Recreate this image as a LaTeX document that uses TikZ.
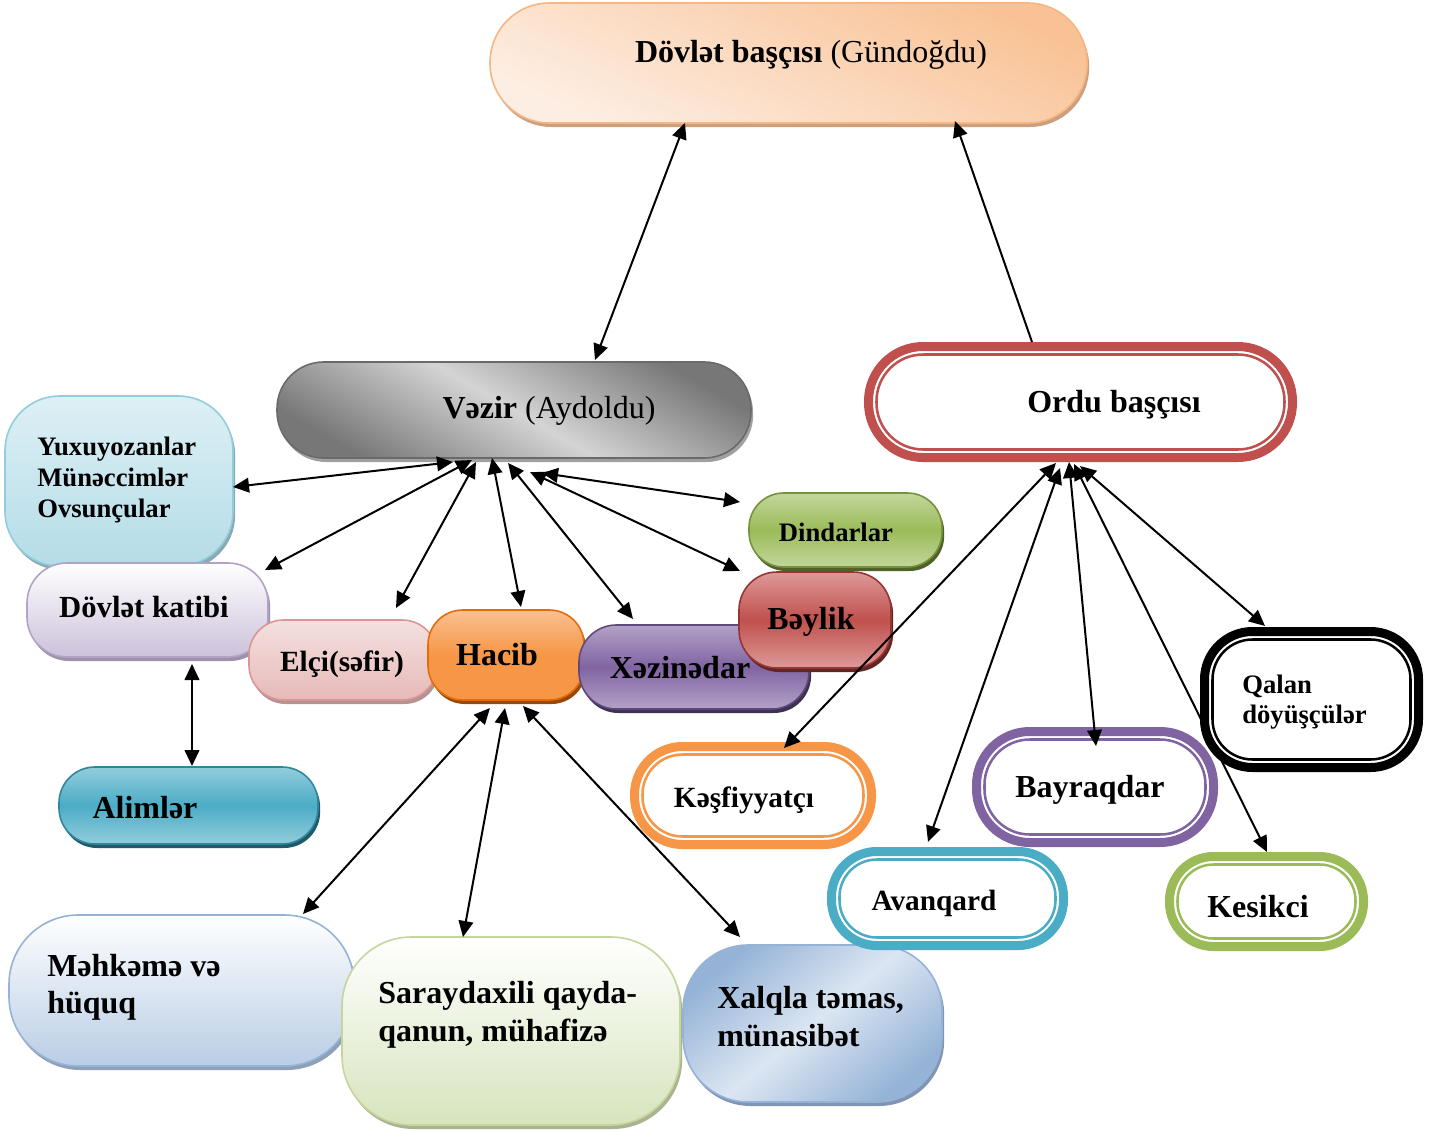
\documentclass[tikz,border=0pt]{standalone}
\usepackage{fontspec}
\setmainfont{Liberation Serif}
\usetikzlibrary{arrows.meta,calc,shadows}
\definecolor{dvTop}{HTML}{F9C295}
\definecolor{dvBot}{HTML}{FDEEE3}
\definecolor{dvLine}{HTML}{F7B683}
\definecolor{dvShd}{HTML}{C9A080}
\definecolor{vzDark}{HTML}{777777}
\definecolor{vzLight}{HTML}{D4D4D4}
\definecolor{vzLine}{HTML}{6A6A6A}
\definecolor{vzShd}{HTML}{A0A0A0}
\definecolor{cRed}{HTML}{C0504D}
\definecolor{cOrange}{HTML}{F79646}
\definecolor{cTeal}{HTML}{4BACC6}
\definecolor{cPurple}{HTML}{8064A2}
\definecolor{cGreen}{HTML}{9BBB59}
\definecolor{yxTop}{HTML}{DDF0F5}
\definecolor{yxBot}{HTML}{B4DCE7}
\definecolor{yxLine}{HTML}{93CDDD}
\definecolor{yxShd}{HTML}{8AA9B2}
\definecolor{ktBot}{HTML}{CCC1DA}
\definecolor{ktLine}{HTML}{B3A2C7}
\definecolor{ktShd}{HTML}{9C93AA}
\definecolor{elTop}{HTML}{F4E1E0}
\definecolor{elBot}{HTML}{E6B9B8}
\definecolor{elLine}{HTML}{D99694}
\definecolor{elShd}{HTML}{B59392}
\definecolor{hcTop}{HTML}{FAC090}
\definecolor{hcLine}{HTML}{E46C0A}
\definecolor{hcShd}{HTML}{984807}
\definecolor{xzLight}{HTML}{B3A2C7}
\definecolor{xzLine}{HTML}{5F497A}
\definecolor{xzShd}{HTML}{3F3151}
\definecolor{bkLight}{HTML}{DD9A98}
\definecolor{bkLine}{HTML}{943634}
\definecolor{bkShd}{HTML}{632523}
\definecolor{dnLight}{HTML}{C3D69B}
\definecolor{dnLine}{HTML}{76923C}
\definecolor{dnShd}{HTML}{4F6228}
\definecolor{alLight}{HTML}{92CDDC}
\definecolor{alLine}{HTML}{31859C}
\definecolor{alShd}{HTML}{215968}
\definecolor{mhBot}{HTML}{B9CDE5}
\definecolor{mhLine}{HTML}{95B3D7}
\definecolor{mhShd}{HTML}{8E9FB6}
\definecolor{srBot}{HTML}{D7E4BD}
\definecolor{srLine}{HTML}{C3D69B}
\definecolor{srShd}{HTML}{A9B392}
\definecolor{xqDark}{HTML}{95B3D7}
\definecolor{xqLight}{HTML}{DCE6F2}
\definecolor{xqShd}{HTML}{8195B2}
\newcommand\dblin[3]{\draw[draw=#2, line width=1.9pt, rounded corners=#3]
  ($(#1.south west)+(12.5,-12.5)$) rectangle ($(#1.north east)+(-12.5,12.5)$);}
\begin{document}
\begin{tikzpicture}[x=0.75pt,y=-0.75pt,
  bx/.style={draw, inner sep=0pt, line width=1.2pt},
  shd/.style={drop shadow={fill=#1, opacity=1, shadow xshift=1.6pt, shadow yshift=-3pt}},
  gloss/.style n args={3}{top color=#1, bottom color=#1, middle color=#2, draw=#3},
  dbl/.style={draw=#1, line width=6.75pt, fill=white, inner sep=0pt},
  tx/.style={inner sep=0pt, font=\fontsize{24pt}{28pt}\selectfont\bfseries, text height=16pt, text depth=0pt},
  tm/.style={inner sep=0pt, anchor=west, align=left, font=\fontsize{24pt}{28.5pt}\selectfont\bfseries},
  tip/.tip={Triangle[length=12pt,width=11pt]},
  arr/.style={line width=1.5pt, tip-tip},
  sarr/.style={line width=1.5pt, -tip}]
\fill[white] (0,0) rectangle (1446,1131);
\useasboundingbox (0,0) rectangle (1446,1131);

% top boxes
\node[bx, draw=dvLine, top color=dvTop, bottom color=dvBot, shading angle=-25,
  minimum width=447.75pt, minimum height=90pt, rounded corners=44.5pt, shd=dvShd] (dovlet) at (788.5,63) {};
\node[bx, draw=vzLine, top color=vzDark, bottom color=vzDark, middle color=vzLight, shading angle=-30,
  minimum width=355.5pt, minimum height=72pt, rounded corners=35pt, shd=vzShd] (vezir) at (514,410) {};
\node[dbl=cRed, minimum width=318pt, minimum height=83.25pt, rounded corners=41pt] (ordu) at (1080.5,402) {};
\dblin{ordu}{cRed}{35pt}

% left cluster
\node[bx, draw=yxLine, top color=yxTop, bottom color=yxBot,
  minimum width=171pt, minimum height=127.5pt, rounded corners=41pt, shd=yxShd] (yuxu) at (119,481) {};
\node[bx, draw=ktLine, top color=white, bottom color=ktBot,
  minimum width=180.75pt, minimum height=70.5pt, rounded corners=30pt, shd=ktShd] (katib) at (147.5,610) {};
\node[bx, draw=elLine, top color=elTop, bottom color=elBot,
  minimum width=141pt, minimum height=60pt, rounded corners=26pt, shd=elShd] (elci) at (343,660) {};
\node[bx, gloss={hcTop}{cOrange}{hcLine}, bottom color=cOrange, middle color=cOrange,
  minimum width=117pt, minimum height=67.5pt, rounded corners=26pt, shd=hcShd] (hacib) at (506,655) {};
\node[bx, gloss={xzLight}{cPurple}{xzLine},
  minimum width=172.5pt, minimum height=63pt, rounded corners=28pt, shd=xzShd] (xezine) at (694,667) {};
\node[bx, gloss={bkLight}{cRed}{bkLine},
  minimum width=114pt, minimum height=72pt, rounded corners=28.5pt, shd=bkShd] (beylik) at (815,620) {};
\node[bx, gloss={dnLight}{cGreen}{dnLine},
  minimum width=144.75pt, minimum height=55.5pt, rounded corners=26pt, shd=dnShd] (dindar) at (845.5,530) {};
\node[bx, gloss={alLight}{cTeal}{alLine},
  minimum width=194.25pt, minimum height=57.75pt, rounded corners=27pt, shd=alShd] (alim) at (188.5,805.5) {};

% bottom boxes
\node[bx, draw=mhLine, top color=white, bottom color=mhBot,
  minimum width=258.75pt, minimum height=113.25pt, rounded corners=52pt, shd=mhShd] (mehkeme) at (181.5,990.5) {};
\node[bx, draw=srLine, top color=white, bottom color=srBot,
  minimum width=253.5pt, minimum height=141pt, rounded corners=52pt, shd=srShd] (saray) at (511,1031) {};
\node[bx, draw=xqDark, top color=xqDark, bottom color=xqDark, middle color=xqLight, shading angle=40,
  minimum width=194.25pt, minimum height=117.75pt, rounded corners=49pt, shd=xqShd] (xalq) at (812.5,1023.5) {};

% army boxes
\node[dbl=cOrange, minimum width=177.75pt, minimum height=73.5pt, rounded corners=36pt] (kesf) at (753,795.5) {};
\dblin{kesf}{cOrange}{30pt}
\node[dbl=cTeal, minimum width=174pt, minimum height=70.5pt, rounded corners=34pt] (avan) at (947.5,898.5) {};
\dblin{avan}{cTeal}{28pt}
\node[dbl=cPurple, minimum width=177.75pt, minimum height=83.25pt, rounded corners=40pt] (bayraq) at (1095,787) {};
\dblin{bayraq}{cPurple}{34pt}
\node[dbl=black, minimum width=160.5pt, minimum height=102pt, rounded corners=36pt] (qalan) at (1311.5,699.5) {};
\dblin{qalan}{black}{30pt}
\node[dbl=cGreen, minimum width=145.5pt, minimum height=67.5pt, rounded corners=33pt] (kesik) at (1266.5,901.5) {};
\dblin{kesik}{cGreen}{27pt}

% texts
\node[tx, font=\fontsize{24pt}{28pt}\selectfont] (dovlet-t) at (811,52) {{\bfseries Dövlət başçısı} (Gündoğdu)};
\node[tx, font=\fontsize{24pt}{28pt}\selectfont] (vezir-t) at (549,408) {{\bfseries Vəzir} (Aydoldu)};
\node[tx] (ordu-t) at (1114,402) {Ordu başçısı};
\node[tm, font=\fontsize{20pt}{23.25pt}\selectfont\bfseries] (yuxu-t) at (37,480) {Yuxuyozanlar\\Münəccimlər\\Ovsunçular};
\node[tx, font=\fontsize{23pt}{28pt}\selectfont\bfseries] (katib-t) at (144,607) {Dövlət katibi};
\node[tx, font=\fontsize{22pt}{28pt}\selectfont\bfseries] (elci-t) at (342,661) {Elçi(səfir)};
\node[tx] (hacib-t) at (497,655) {Hacib};
\node[tx] (xezine-t) at (680,668) {Xəzinədar};
\node[tx] (beylik-t) at (811,619) {Bəylik};
\node[tx, font=\fontsize{20pt}{24pt}\selectfont\bfseries] (dindar-t) at (836,531) {Dindarlar};
\node[tx] (alim-t) at (145,808) {Alimlər};
\node[tx, font=\fontsize{22pt}{28pt}\selectfont\bfseries] (kesf-t) at (744,797) {Kəşfiyyatçı};
\node[tx, font=\fontsize{22pt}{28pt}\selectfont\bfseries] (avan-t) at (934,900) {Avanqard};
\node[tx] (bayraq-t) at (1090,787) {Bayraqdar};
\node[tm, font=\fontsize{20pt}{22.5pt}\selectfont\bfseries] (qalan-t) at (1242,702) {Qalan\\döyüşçülər};
\node[tx] (kesik-t) at (1258,907) {Kesikci};
\node[tm, font=\fontsize{24pt}{27.75pt}\selectfont\bfseries] (mehkeme-t) at (47,987) {Məhkəmə və\\hüquq};
\node[tm] (saray-t) at (378,1015) {Saraydaxili qayda-\\qanun, mühafizə};
\node[tm] (xalq-t) at (717,1017) {Xalqla təmas,\\münasibət};

% connectors
\draw[arr] ($(dovlet.center)+(-103.5,60)$) -- ($(vezir.center)+(81,-50)$);
\draw[sarr] ($(ordu.center)+(-48.5,-60)$) -- ($(dovlet.center)+(166.5,58)$);
\draw[arr] ($(vezir.center)+(-61,52)$) -- ($(yuxu.center)+(114,6)$);
\draw[arr] ($(vezir.center)+(-42,50)$) -- ($(katib.center)+(117.5,-40)$);
\draw[arr] ($(vezir.center)+(-38,52)$) -- ($(elci.center)+(53,-52)$);
\draw[arr] ($(vezir.center)+(-22,48)$) -- ($(hacib.center)+(15,-48)$);
\draw[arr] ($(vezir.center)+(-6,53)$) -- ($(xezine.center)+(-61,-48)$);
\draw[arr] ($(vezir.center)+(16,62)$) -- ($(beylik.center)+(-75,-49)$);
\draw[arr] ($(vezir.center)+(28,63)$) -- ($(dindar.center)+(-105.5,-28)$);
\draw[arr] ($(katib.center)+(44.5,54)$) -- ($(alim.center)+(3.5,-39.5)$);
\draw[arr] ($(hacib.center)+(-16,53)$) -- ($(mehkeme.center)+(121.5,-76.5)$);
\draw[arr] ($(hacib.center)+(-1,53)$) -- ($(saray.center)+(-48,-94)$);
\draw[arr] ($(hacib.center)+(17,51)$) -- ($(xalq.center)+(-72.5,-86.5)$);
\draw[arr] ($(ordu.center)+(-24.5,61)$) -- ($(kesf.center)+(31,-47.5)$);
\draw[arr] ($(ordu.center)+(-20.5,66)$) -- ($(avan.center)+(-19.5,-56.5)$);
\draw[arr] ($(ordu.center)+(-11.5,60)$) -- ($(bayraq.center)+(1,-41)$);
\draw[arr] ($(ordu.center)+(-6.5,62)$) -- ($(kesik.center)+(0.5,-49.5)$);
\draw[arr] ($(ordu.center)+(-0.5,64)$) -- ($(qalan.center)+(-46.5,-73.5)$);
\end{tikzpicture}
\end{document}
